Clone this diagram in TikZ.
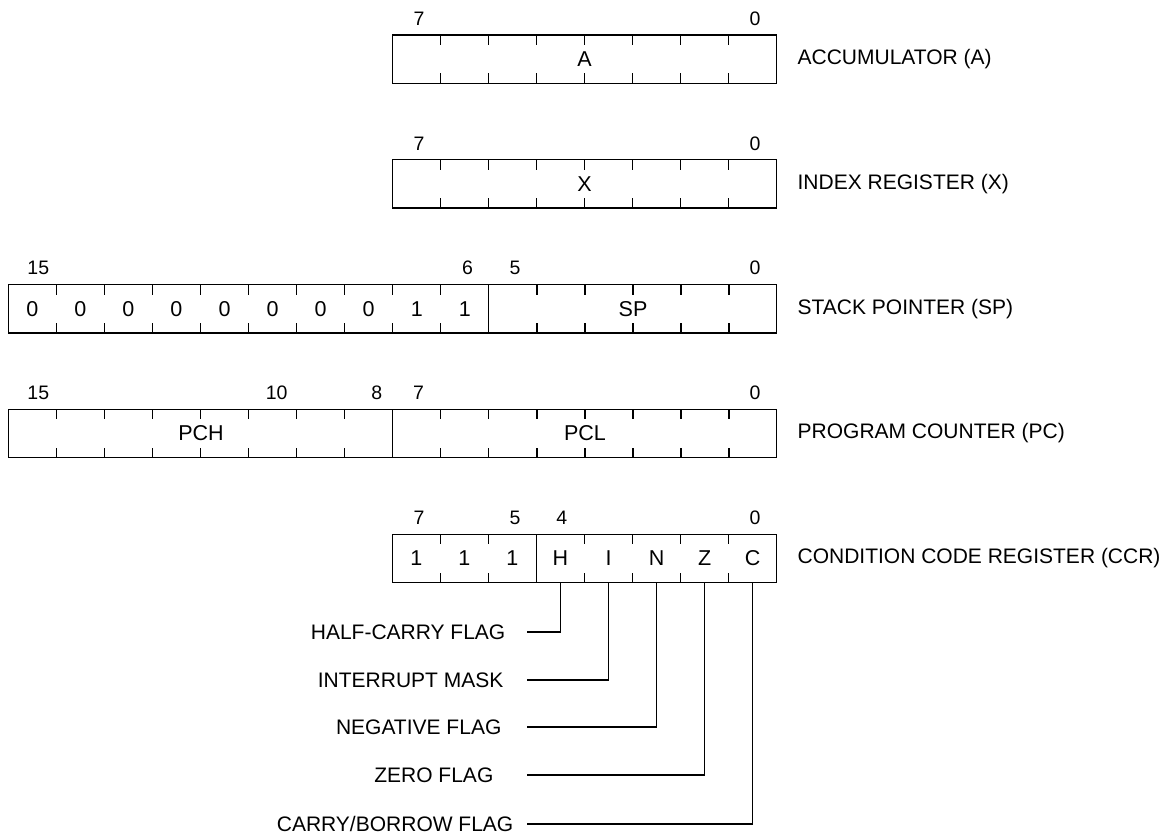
\documentclass[tikz,border=0pt]{standalone}
\usepackage{fontspec}
\setmainfont{Liberation Sans}
\begin{document}
\begin{tikzpicture}[x=1pt,y=-1pt,line width=1.3pt,
  cell/.style={minimum width=48.05pt,minimum height=48.3pt,inner sep=0pt,outer sep=0pt,font=\fontsize{21.5}{25}\selectfont},
  field/.style={inner sep=0pt,font=\fontsize{21.5}{25}\selectfont},
  bitno/.style={inner sep=0pt,font=\fontsize{19.5}{23}\selectfont},
  reglabel/.style={anchor=west,inner sep=0pt,font=\fontsize{21}{25}\selectfont},
  flaglabel/.style={anchor=east,inner sep=0pt,font=\fontsize{21}{25}\selectfont},
  regbox/.style={draw,line width=1.3pt},
  tickline/.style={line width=1.3pt}]
\useasboundingbox (0,0) rectangle (1168,834);
% ---------- Accumulator ----------
\def\rt{35}
\draw[regbox] (392.3,\rt) rectangle (776.7,\rt+48.3);
\foreach \i in {1,...,7}{\draw[tickline] (392.3+\i*48.05,\rt) -- ++(0,10) (392.3+\i*48.05,\rt+48.3) -- ++(0,-10);}
\node[field] (accA) at (584.5,\rt+24.15) {A};
\node[bitno] (a7) at (419,\rt-16.5) {7};
\node[bitno] (a0) at (755,\rt-16.5) {0};
\node[reglabel] (accL) at (797,\rt+24.15) {ACCUMULATOR (A)};
% ---------- Index register ----------
\def\rt{159.8}
\draw[regbox] (392.3,\rt) rectangle (776.7,\rt+48.3);
\foreach \i in {1,...,7}{\draw[tickline] (392.3+\i*48.05,\rt) -- ++(0,10) (392.3+\i*48.05,\rt+48.3) -- ++(0,-10);}
\node[field] (idxX) at (584.5,\rt+24.15) {X};
\node[bitno] (x7) at (419,\rt-16.5) {7};
\node[bitno] (x0) at (755,\rt-16.5) {0};
\node[reglabel] (idxL) at (797,\rt+24.15) {INDEX REGISTER (X)};
% ---------- Stack pointer ----------
\def\rt{284.6}
\draw[regbox] (8.3,\rt) rectangle (776.7,\rt+48.3);
\draw[regbox] (488.8,\rt) -- (488.8,\rt+48.3);
\foreach \i in {1,...,9,11,12,13,14,15}{\draw[tickline] (8.3+\i*48.05,\rt) -- ++(0,10) (8.3+\i*48.05,\rt+48.3) -- ++(0,-10);}
\foreach \i/\v in {0/0,1/0,2/0,3/0,4/0,5/0,6/0,7/0,8/1,9/1}{\node[cell] (sp\i) at (8.3+\i*48.05+24.025,\rt+24.15) {\v};}
\node[field] (spF) at (633,\rt+24.15) {SP};
\node[bitno] (s15) at (38.3,\rt-16.5) {15};
\node[bitno] (s6) at (467.5,\rt-16.5) {6};
\node[bitno] (s5) at (515,\rt-16.5) {5};
\node[bitno] (s0) at (755,\rt-16.5) {0};
\node[reglabel] (spL) at (797,\rt+24.15) {STACK POINTER (SP)};
% ---------- Program counter ----------
\def\rt{409.4}
\draw[regbox] (8.3,\rt) rectangle (776.7,\rt+48.3);
\draw[regbox] (392.7,\rt) -- (392.7,\rt+48.3);
\foreach \i in {1,...,7,9,10,11,12,13,14,15}{\draw[tickline] (8.3+\i*48.05,\rt) -- ++(0,10) (8.3+\i*48.05,\rt+48.3) -- ++(0,-10);}
\node[field] (pch) at (201,\rt+24.15) {PCH};
\node[field] (pcl) at (585,\rt+24.15) {PCL};
\node[bitno] (p15) at (38.3,\rt-16.5) {15};
\node[bitno] (p10) at (276.7,\rt-16.5) {10};
\node[bitno] (p8) at (376.7,\rt-16.5) {8};
\node[bitno] (p7) at (418.5,\rt-16.5) {7};
\node[bitno] (p0) at (755,\rt-16.5) {0};
\node[reglabel] (pcL) at (797,\rt+24.15) {PROGRAM COUNTER (PC)};
% ---------- Condition code register ----------
\def\rt{534.2}
\draw[regbox] (392.3,\rt) rectangle (776.7,\rt+48.3);
\draw[regbox] (536.45,\rt) -- (536.45,\rt+48.3);
\foreach \i in {1,2,4,5,6,7}{\draw[tickline] (392.3+\i*48.05,\rt) -- ++(0,10) (392.3+\i*48.05,\rt+48.3) -- ++(0,-10);}
\foreach \i/\v in {0/1,1/1,2/1,3/H,4/I,5/N,6/Z,7/C}{\node[cell] (cc\i) at (392.3+\i*48.05+24.025,\rt+24.15) {\v};}
\node[bitno] (c7) at (419,\rt-16.5) {7};
\node[bitno] (c5) at (515,\rt-16.5) {5};
\node[bitno] (c4) at (561.7,\rt-16.5) {4};
\node[bitno] (c0) at (755,\rt-16.5) {0};
\node[reglabel] (ccrL) at (797,\rt+24.15) {CONDITION CODE REGISTER (CCR)};
% ---------- Flags ----------
\foreach \i/\y/\xr/\t in {3/632/506/{HALF-CARRY FLAG},4/680/504/{INTERRUPT MASK},5/727/502/{NEGATIVE FLAG},6/775/494/{ZERO FLAG},7/824/514/{CARRY/BORROW FLAG}}{
  \node[flaglabel] (fl\i) at (\xr,\y) {\t};
  \coordinate (fe\i) at (527,\y);
  \draw[tickline] (cc\i.south) |- (fe\i);
}
\end{tikzpicture}
\end{document}
